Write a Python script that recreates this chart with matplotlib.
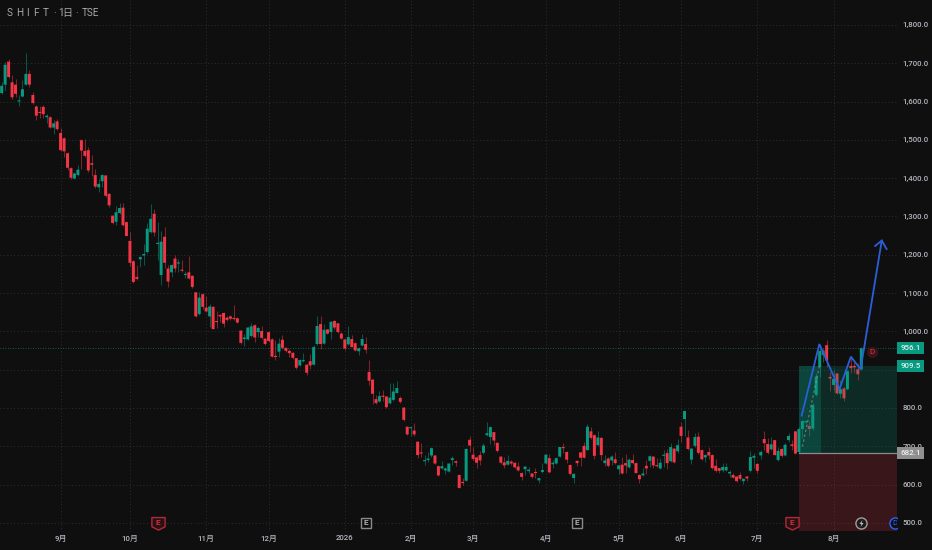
import matplotlib
matplotlib.use("Agg")
import matplotlib.pyplot as plt
from matplotlib.path import Path
import numpy as np

plt.rcParams['font.family'] = ['Roboto', 'Noto Sans CJK JP', 'DejaVu Sans']

# daily candles
opens = [
    1622,1644,1704,1650,1644,1600,1613,1644,1672,1617,
    1587,1573,1586,1559,1559,1532,1548,1518,1504,1465,
    1426,1399,1408,1499,1471,1473,1439,1408,1376,1392,
    1407,1359,1302,1286,1309,1323,1285,1236,1183,1142,
    1188,1198,1207,1259,1307,1228,1147,1247,1164,1154,
    1190,1177,1161,1147,1154,1145,1102,1045,1097,1062,
    1039,1064,1027,1043,1048,1036,1039,1035,1034,1002,
    980,979,988,1016,998,1001,981,998,979,936,
    947,978,957,949,944,930,911,922,913,922,
    913,967,1019,968,1005,998,1027,1021,994,979,
    966,980,969,948,963,967,894,874,823,817,
    832,830,812,821,839,826,801,751,747,741,
    712,684,661,664,676,676,648,642,637,634,
    664,661,625,607,610,717,678,671,677,683,
    729,724,737,709,673,658,652,660,657,647,
    630,640,635,629,633,611,633,655,669,653,
    655,673,698,685,651,617,662,684,701,690,
    739,729,703,722,656,668,663,666,640,652,
    656,645,664,656,625,624,649,662,673,650,
    642,675,682,661,694,687,751,771,723,665,
    701,725,690,671,685,677,649,643,637,637,
    629,625,621,625,609,621,636,670,654,676,
    719,706,692,716,664,693,676,716,705,739,
    685,745,762,753,746,834,907,938,964,881,
    860,890,837,851,849,910,910,901,901,
]
closes = [
    1641,1696,1664,1611,1620,1603,1632,1672,1644,1596,
    1563,1570,1567,1563,1532,1543,1528,1473,1470,1427,
    1401,1412,1422,1472,1458,1420,1435,1378,1385,1408,
    1354,1329,1283,1311,1322,1277,1249,1179,1129,1137,
    1194,1202,1268,1294,1258,1231,1234,1179,1130,1173,
    1164,1179,1158,1149,1138,1116,1039,1088,1064,1052,
    1065,1006,1024,1039,1020,1030,1033,1032,1023,970,
    984,1010,1013,984,1009,983,967,975,934,933,
    968,957,949,943,931,905,925,925,892,911,
    959,1014,967,1004,994,1025,1010,998,981,955,
    985,959,950,956,980,952,871,837,813,831,
    829,802,827,843,852,816,769,731,749,731,
    677,681,663,668,695,655,624,648,642,655,
    669,657,591,604,693,702,667,657,663,702,
    734,750,715,688,657,650,662,655,645,637,
    620,647,639,620,630,617,638,678,632,657,
    669,698,695,665,628,628,656,670,670,751,
    722,675,723,677,663,649,673,656,650,629,
    650,665,656,630,614,629,642,674,650,648,
    657,677,656,698,658,703,727,792,693,694,
    724,683,666,677,676,643,636,636,646,646,
    633,618,609,615,615,616,672,675,636,685,
    708,683,705,677,688,675,704,727,701,681,
    745,766,766,745,808,882,949,950,924,877,
    876,838,849,825,896,904,906,888,956,
]
highs = [
    1650,1702,1711,1668,1658,1617,1655,1726,1681,1624,
    1590,1589,1591,1568,1561,1552,1555,1532,1507,1467,
    1428,1416,1434,1503,1501,1482,1461,1423,1397,1410,
    1409,1361,1303,1326,1335,1334,1287,1259,1187,1174,
    1197,1228,1284,1333,1320,1285,1262,1273,1174,1175,
    1200,1189,1187,1158,1197,1147,1104,1102,1099,1091,
    1072,1065,1052,1046,1050,1039,1043,1068,1037,1004,
    993,1012,1021,1018,1012,1014,983,1000,982,978,
    982,991,958,953,945,931,927,943,915,940,
    965,1040,1040,1019,1006,1027,1030,1023,999,981,
    1014,991,971,958,992,986,925,876,835,844,
    846,832,864,864,871,832,803,753,751,761,
    714,709,676,684,698,677,650,662,646,657,
    674,665,627,617,696,728,698,674,687,709,
    764,754,738,711,675,672,678,663,658,658,
    632,649,647,630,642,618,657,680,681,665,
    672,699,709,687,653,630,664,685,712,757,
    750,732,739,723,676,673,677,684,652,673,
    679,670,680,658,627,643,663,676,675,670,
    669,690,692,708,696,718,764,793,743,696,
    734,737,692,680,699,679,666,644,656,657,
    638,629,623,634,618,623,688,682,656,690,
    739,721,723,717,697,696,708,734,716,741,
    750,769,769,765,813,891,965,955,977,895,
    899,892,873,854,899,930,921,917,958,
]
lows = [
    1620,1630,1661,1606,1613,1587,1611,1644,1637,1594,
    1552,1557,1557,1543,1530,1516,1526,1471,1455,1420,
    1398,1397,1406,1423,1456,1415,1406,1374,1363,1376,
    1350,1324,1281,1278,1307,1276,1248,1171,1127,1135,
    1168,1174,1204,1256,1248,1187,1122,1165,1117,1143,
    1155,1156,1156,1140,1136,1113,1037,1043,1058,1050,
    1012,1005,1008,1025,1012,1027,1030,1030,1021,968,
    962,978,986,972,986,981,965,973,932,925,
    934,954,947,934,929,902,909,920,886,902,
    911,965,955,966,992,981,1007,996,979,952,
    965,958,948,939,961,944,859,811,811,815,
    818,800,811,819,838,813,767,729,726,726,
    669,672,650,660,672,653,623,640,628,632,
    652,648,590,599,609,686,665,644,652,681,
    726,707,704,686,654,643,650,652,644,636,
    613,626,629,618,618,603,631,653,630,643,
    653,671,683,657,626,604,648,648,669,689,
    718,668,701,664,649,647,650,654,628,627,
    629,643,654,629,605,623,628,647,643,645,
    640,647,640,659,656,682,710,727,691,654,
    699,681,664,660,668,641,634,629,633,636,
    621,616,608,613,602,610,634,643,631,668,
    690,681,690,676,661,673,675,710,690,679,
    683,721,760,728,743,830,882,920,908,845,
    843,836,825,819,847,890,890,873,899,
]

month_pos = [17.1, 37, 59, 77, 99, 118, 136, 157, 178, 196, 218, 240]
month_labels = ["9月", "10月", "11月", "12月", "2026", "2月", "3月", "4月", "5月", "6月", "7月", "8月"]
price_ticks = list(range(500, 1900, 100))

last_price = 956.1
target_price = 909.5
entry_price = 682.1

# hand drawn wave and arrow
wave_x = [230.8, 235.9, 241.7, 245.0, 247.8, 253.9]
wave_y = [780, 967, 849, 934, 901, 1237]
head_x = [252.0, 253.9, 255.3]
head_y = [1223, 1237, 1215]
dash_x = [231, 235.9]
dash_y = [699, 908]

BG = "#0f0f0f"
UP = "#089981"
DOWN = "#f23645"
GRID = "#2e2e2e"
TXT = "#b2b5be"

fig = plt.figure(figsize=(9.32, 5.5), dpi=100, facecolor=BG)
ax = fig.add_axes([0, 18.5 / 550, 897 / 932, 531.5 / 550], facecolor=BG)

o = np.array(opens)
c = np.array(closes)
h = np.array(highs)
l = np.array(lows)
x = np.arange(len(o))
up = c >= o
cols = np.where(up, UP, DOWN)

ax.vlines(x, l, h, colors=cols, linewidth=0.75, alpha=0.5, zorder=2)
ax.bar(x, np.maximum(np.abs(c - o), 3), bottom=np.minimum(o, c), width=0.86, color=cols,
       linewidth=0, zorder=3, snap=False)

# position tool
ax.fill_between([230, 258.3], entry_price, target_price, color=UP, alpha=0.2, linewidth=0, zorder=4)
ax.fill_between([230, 236.3], entry_price, target_price, color=UP, alpha=0.25, linewidth=0, zorder=4)
ax.fill_between([230, 258.3], 479, entry_price, color=DOWN, alpha=0.19, linewidth=0, zorder=4)
ax.plot([230, 258.3], [entry_price, entry_price], color="#8c8c8c", lw=0.9, zorder=5)

ax.plot(dash_x, dash_y, color="#9a9a9a", lw=0.9, ls=(0, (2, 2)), alpha=0.6, zorder=5)
ax.plot(wave_x, wave_y, color="#2b5fd9", lw=1.3, zorder=6, solid_joinstyle="miter")
ax.plot(head_x, head_y, color="#2b5fd9", lw=1.3, zorder=6)

ax.axhline(last_price, color=UP, lw=0.6, ls=(0, (1, 2)), alpha=0.8, zorder=1)

ax.set_xlim(-0.48, 258.3)
ax.set_ylim(477.5, 1865)
ax.set_xticks(month_pos)
ax.set_xticklabels(month_labels)
ax.set_yticks(price_ticks)
ax.set_yticklabels([f"{v:,.1f}" for v in price_ticks])
ax.yaxis.tick_right()
ax.tick_params(axis="both", length=0, colors=TXT, labelsize=5.7)
ax.tick_params(axis="y", pad=4.0)
ax.tick_params(axis="x", pad=2.5)
for lab in ax.get_xticklabels() + ax.get_yticklabels():
    lab.set_fontweight("medium")
ax.grid(True, color=GRID, lw=0.7, ls=(0, (1, 2.5)))
ax.set_axisbelow(True)
for s in ax.spines.values():
    s.set_visible(False)

# price tags on the scale
ytrans = ax.get_yaxis_transform()
for val, col, tcol in [(last_price, UP, "#d8efe9"), (target_price, UP, "#d8efe9"), (entry_price, "#8f8f8f", "#eeeeee")]:
    ax.text(1.0152, val, f"{val:.1f}", transform=ytrans, ha="center", va="center", fontsize=5.8,
            color=tcol, clip_on=False, zorder=10, fontweight="medium",
            bbox=dict(boxstyle="square,pad=0.38", fc=col, ec="none"))

# event markers along the bottom
shield = Path([(-1, 0.9), (1, 0.9), (1, -0.5), (0, -1), (-1, -0.5), (-1, 0.9)], closed=True)
bolt = Path([(0.3, 1), (-0.6, -0.1), (0, -0.1), (-0.3, -1), (0.6, 0.15), (0, 0.15), (0.3, 1)], closed=True)
for ex in [45, 228]:
    ax.plot([ex], [500], marker=shield, ms=9.5, mfc="#2a1114", mec="#b02a37", mew=1, zorder=7)
    ax.text(ex, 500, "E", color="#d0303c", fontsize=6, ha="center", va="center", zorder=8, fontweight="bold")
for ex in [105, 166]:
    ax.plot([ex], [500], marker="s", ms=7.5, mfc=BG, mec="#8a8a8a", mew=1, zorder=7)
    ax.text(ex, 500, "E", color="#b0b0b0", fontsize=6, ha="center", va="center", zorder=8, fontweight="bold")
ax.plot([248], [500], marker="o", ms=8, mfc="#1c1c1c", mec="#a89aa0", mew=1, zorder=7)
ax.plot([248], [500], marker=bolt, ms=5, mfc="#c8c8c8", mec="none", zorder=8)
ax.plot([257.6], [500], marker="o", ms=8, mfc=BG, mec="#2962ff", mew=1, zorder=7)
ax.text(257.6, 500, "D", color="#2962ff", fontsize=5.5, ha="center", va="center", zorder=8, clip_on=True)

# dividend marker next to the last bar
ax.plot([251], [last_price - 10], marker="o", ms=8, mfc="#3a1518", mec="none", zorder=7)
ax.text(251, last_price - 10, "D", color="#e0313f", fontsize=5.8, ha="center", va="center", zorder=8)

# title, spaced like the original
title_bits = [("S", 6.5), ("H", 16), ("I", 26.5), ("F", 33.5), ("T", 43), ("·", 53), ("1", 58), ("日", 62.5), ("·", 75), ("TSE", 81.5)]
for txt, px in title_bits:
    fig.text(px / 932, 1 - 13 / 550, txt, color="#a8a8a8", fontsize=7.2, ha="left", va="center")

fig.savefig("out.png", dpi=100, facecolor=BG)
